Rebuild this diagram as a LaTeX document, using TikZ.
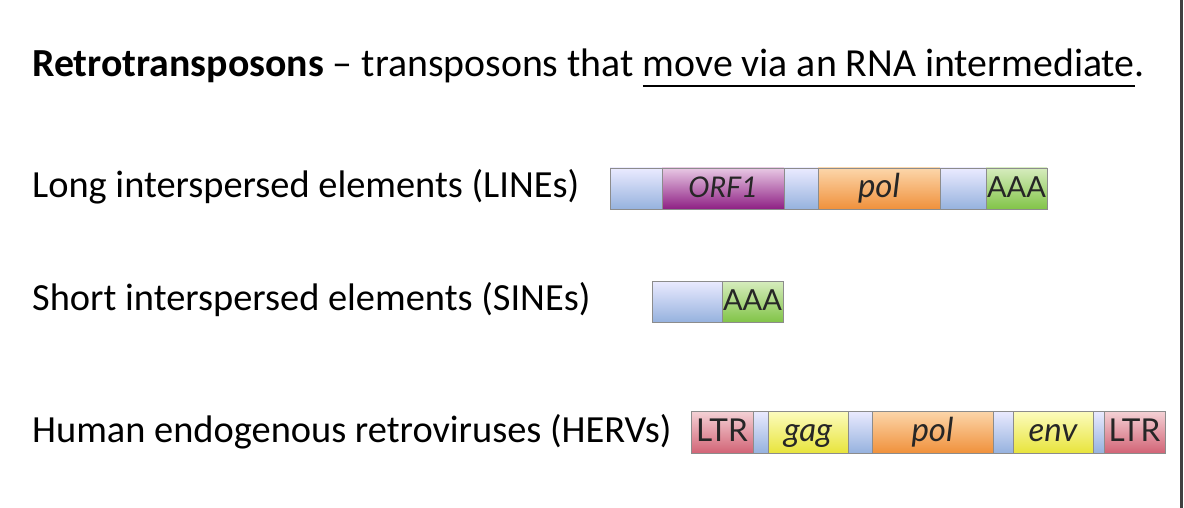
\documentclass[tikz,border=0pt]{standalone}
\usepackage{fontspec}
\setmainfont{Carlito}
\newfontfamily\barfont{Lato}
\newcommand\ulx[1]{\setbox0\hbox{#1}\rlap{\rule[-10pt]{\wd0}{2pt}}\box0}
\begin{document}
\begin{tikzpicture}[x=1pt,y=-1pt,
  lbl/.style={anchor=base west, inner sep=0pt, font=\fontsize{38.4}{44}\selectfont},
  seg/.style={anchor=north west, inner sep=0pt, outer sep=0pt, draw=black!45, line width=0.7pt,
     font=\barfont\fontsize{29}{32}\selectfont, text=black!85, text height=20pt, text depth=2pt},
  bl/.style={seg, top color=blue!8!white, bottom color={rgb,255:red,150;green,178;blue,222}},
  pu/.style={seg, top color={rgb,255:red,232;green,200;blue,228}, bottom color={rgb,255:red,142;green,32;blue,132}},
  orr/.style={seg, top color={rgb,255:red,252;green,214;blue,170}, bottom color={rgb,255:red,240;green,145;blue,60}},
  gr/.style={seg, top color={rgb,255:red,214;green,236;blue,190}, bottom color={rgb,255:red,130;green,196;blue,72}},
  pk/.style={seg, top color={rgb,255:red,244;green,210;blue,214}, bottom color={rgb,255:red,210;green,100;blue,118}},
  ye/.style={seg, top color={rgb,255:red,252;green,252;blue,190}, bottom color={rgb,255:red,232;green,228;blue,60}},
  it/.style={font=\barfont\itshape\fontsize{33}{36}\selectfont},
  itc/.style={font=\barfont\itshape\fontsize{28.5}{32}\selectfont},
  big/.style={font=\barfont\fontsize{31.5}{36}\selectfont}
]
\useasboundingbox (0,0) rectangle (1184,508);
\fill[white] (0,0) rectangle (1184,508);
\fill[black!75] (1180,0) rectangle (1183,508);

\node[lbl, font=\fontsize{39.8}{44}\selectfont] (title) at (32,77) {\textbf{Retrotransposons} -- transposons that \ulx{move via an RNA intermediate}.};
\node[lbl] (lines) at (32,197) {Long interspersed elements (LINEs)};
\node[lbl] (sines) at (32,310) {Short interspersed elements (SINEs)};
\node[lbl] (hervs) at (32,442) {Human endogenous retroviruses (HERVs)};

% LINE
\node[bl, minimum width=52pt, minimum height=41pt] (l1) at (610,168) {};
\node[pu, itc, minimum width=122pt, minimum height=41pt] (l2) at (662,168) {ORF1};
\node[bl, minimum width=34pt, minimum height=41pt] (l3) at (784,168) {};
\node[orr, it, minimum width=122pt, minimum height=41pt] (l4) at (818,168) {pol};
\node[bl, minimum width=46pt, minimum height=41pt] (l5) at (940,168) {};
\node[gr, minimum width=61pt, minimum height=41pt] (l6) at (986,168) {AAA};

% SINE
\node[bl, minimum width=70pt, minimum height=41pt] (s1) at (652,281) {};
\node[gr, minimum width=61pt, minimum height=41pt] (s2) at (722,281) {AAA};

% HERV
\node[pk, big, minimum width=62pt, minimum height=42pt] (h1) at (691,411) {LTR};
\node[bl, minimum width=15pt, minimum height=42pt] (h2) at (753,411) {};
\node[ye, it, minimum width=80pt, minimum height=42pt] (h3) at (768,411) {gag};
\node[bl, minimum width=24pt, minimum height=42pt] (h4) at (848,411) {};
\node[orr, it, minimum width=121pt, minimum height=42pt] (h5) at (872,411) {pol};
\node[bl, minimum width=20pt, minimum height=42pt] (h6) at (993,411) {};
\node[ye, it, minimum width=80pt, minimum height=42pt] (h7) at (1013,411) {env};
\node[bl, minimum width=11pt, minimum height=42pt] (h8) at (1093,411) {};
\node[pk, big, minimum width=61pt, minimum height=42pt] (h9) at (1104,411) {LTR};
\end{tikzpicture}
\end{document}
